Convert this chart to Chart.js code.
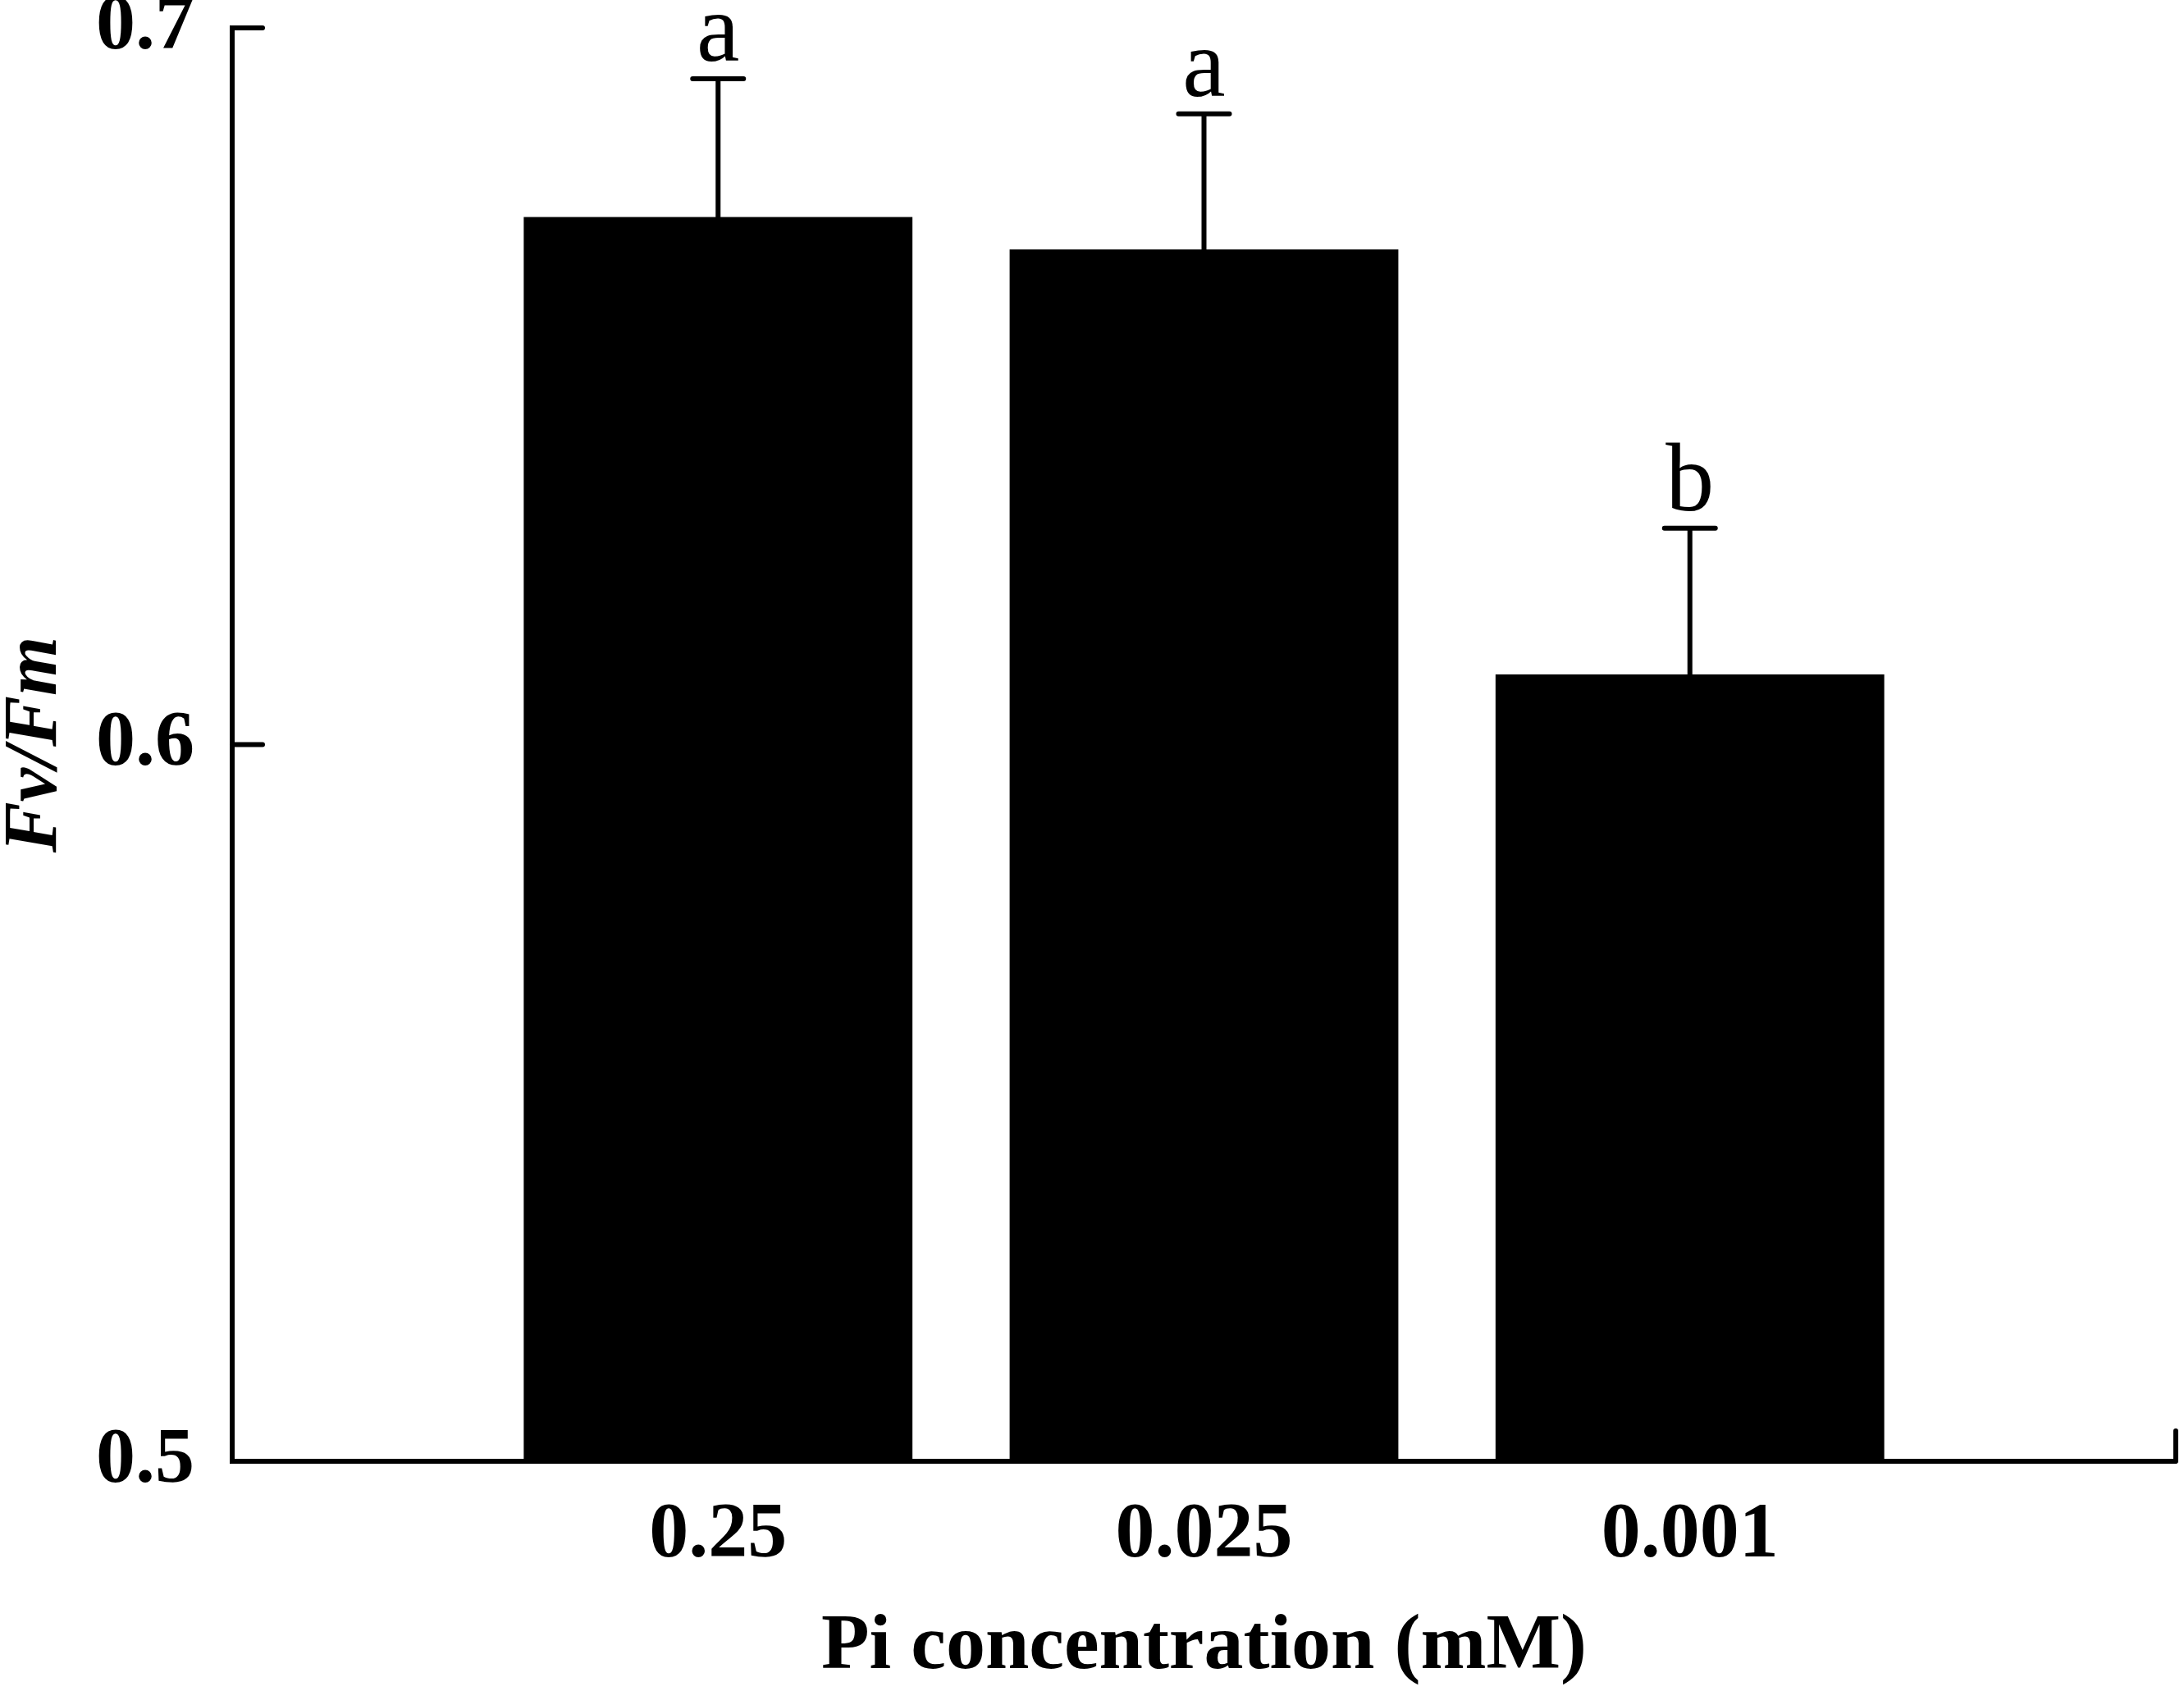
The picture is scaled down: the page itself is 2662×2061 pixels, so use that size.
<!DOCTYPE html>
<html>
<head>
<meta charset="utf-8">
<script src="https://cdn.jsdelivr.net/npm/chart.js@4.4.1/dist/chart.umd.min.js"></script>
<style>
  html, body { margin: 0; padding: 0; background: #fff; }
  #wrap { width: 2662px; height: 2061px; }
</style>
</head>
<body>
<div id="wrap"><canvas id="chart"></canvas></div>
<script>
// Datos
const categories = ['0.25', '0.025', '0.001'];   // Pi (mM)
const fvfm = [0.6736, 0.6691, 0.6098];           // media Fv/Fm
const errors = [0.0193, 0.0189, 0.0204];         // error (solo hacia arriba)
const letters = ['a', 'a', 'b'];                 // grupos estadísticos
const yTicks = [0.5, 0.6, 0.7];

const serif = '"Liberation Serif", "Times New Roman", serif';

// Huecos vacíos a los lados, como en la figura original
const labels = [''].concat(categories, ['']);
const values = [null].concat(fvfm, [null]);

// Marcas de eje hacia dentro, barras de error y letras
const extras = {
    id: 'extras',
    afterDatasetsDraw(chart) {
        const ctx = chart.ctx;
        const y = chart.scales.y;
        const area = chart.chartArea;
        const meta = chart.getDatasetMeta(0);

        ctx.save();
        ctx.strokeStyle = '#000';
        ctx.fillStyle = '#000';
        ctx.lineWidth = 6;
        ctx.lineCap = 'round';

        // ticks del eje y
        yTicks.forEach(v => {
            if (v === yTicks[0]) return;
            const py = y.getPixelForValue(v);
            ctx.beginPath();
            ctx.moveTo(area.left, py);
            ctx.lineTo(area.left + 37, py);
            ctx.stroke();
        });

        // tick al final del eje x
        ctx.beginPath();
        ctx.moveTo(area.right, area.bottom);
        ctx.lineTo(area.right, area.bottom - 37);
        ctx.stroke();

        ctx.font = 'normal 118px ' + serif;
        ctx.textAlign = 'center';
        ctx.textBaseline = 'alphabetic';

        categories.forEach((c, i) => {
            const bar = meta.data[i + 1];
            const top = y.getPixelForValue(fvfm[i] + errors[i]);
            ctx.beginPath();
            ctx.moveTo(bar.x, bar.y);
            ctx.lineTo(bar.x, top);
            ctx.moveTo(bar.x - 31, top);
            ctx.lineTo(bar.x + 31, top);
            ctx.stroke();
            ctx.fillText(letters[i], bar.x, top - 22);
        });
        ctx.restore();
    }
};

new Chart(document.getElementById('chart'), {
    type: 'bar',
    data: {
        labels: labels,
        datasets: [{
            data: values,
            backgroundColor: '#000',
            borderWidth: 0,
            barPercentage: 0.8,
            categoryPercentage: 1.0
        }]
    },
    options: {
        responsive: true,
        maintainAspectRatio: false,
        devicePixelRatio: 1,
        animation: false,
        layout: { padding: { top: 34, right: 10, left: 0, bottom: 0 } },
        plugins: {
            legend: { display: false },
            tooltip: { enabled: false }
        },
        scales: {
            x: {
                type: 'category',
                offset: false,
                grid: { display: true, drawOnChartArea: false, drawTicks: true, tickLength: 43, tickColor: 'rgba(0,0,0,0)' },
                border: { display: true, color: '#000', width: 6 },
                ticks: {
                    autoSkip: false,
                    maxRotation: 0,
                    color: '#000',
                    padding: 0,
                    font: { family: serif, size: 96, weight: 'bold', lineHeight: 1 }
                },
                title: {
                    display: true,
                    text: 'Pi concentration (mM)',
                    color: '#000',
                    font: { family: serif, size: 96, weight: 'bold', lineHeight: 1 },
                    padding: { top: 0, bottom: 5 }
                },
                afterFit: s => { s.height = 280; }
            },
            y: {
                min: 0.5,
                max: 0.7,
                afterBuildTicks: s => { s.ticks = yTicks.map(v => ({ value: v })); },
                grid: { display: true, drawOnChartArea: false, drawTicks: true, tickLength: 46, tickColor: 'rgba(0,0,0,0)' },
                border: { display: true, color: '#000', width: 6 },
                ticks: {
                    color: '#000',
                    padding: 0,
                    callback: v => v.toFixed(1),
                    font: { family: serif, size: 96, weight: 'bold', lineHeight: 0.7 }
                },
                title: {
                    display: true,
                    text: 'Fv/Fm',
                    color: '#000',
                    font: { family: serif, size: 93, weight: 'bold', style: 'italic', lineHeight: 0.9 },
                    padding: { top: 2, bottom: 0 }
                },
                afterFit: s => { s.width = 283; }
            }
        }
    },
    plugins: [extras]
});
</script>
</body>
</html>
